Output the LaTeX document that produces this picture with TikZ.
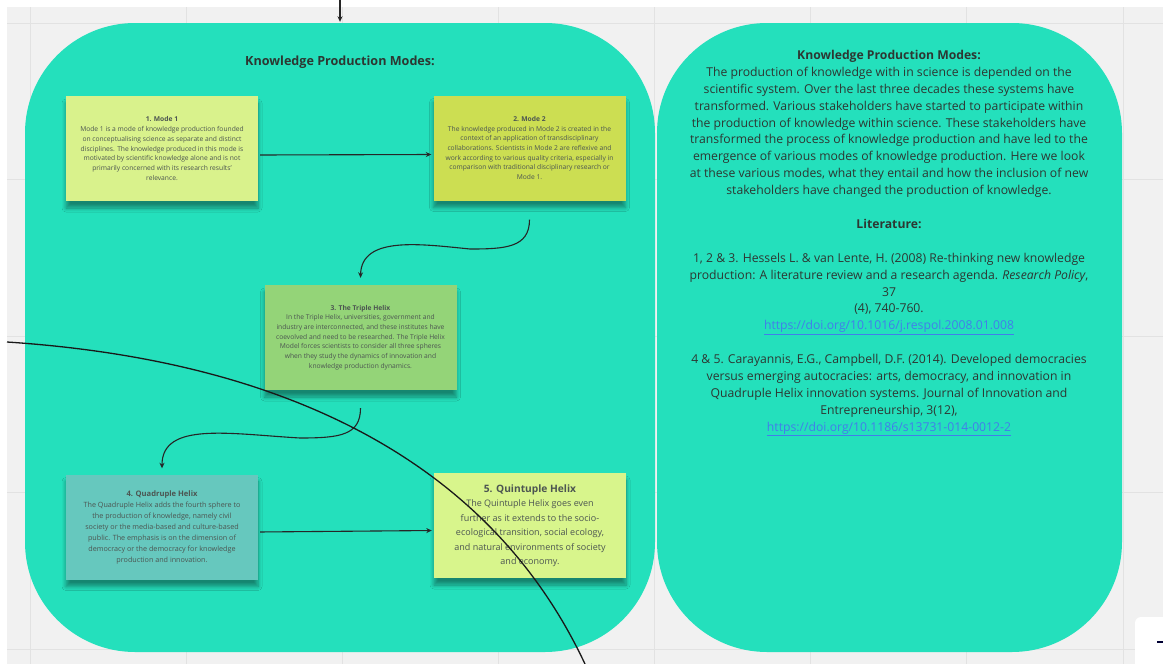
\documentclass[tikz,border=0pt]{standalone}
\usepackage{fontspec}
\setmainfont{Open Sans}
\usetikzlibrary{arrows.meta,shadows.blur}
\definecolor{board}{RGB}{241,241,241}
\definecolor{gridln}{RGB}{226,226,226}
\definecolor{panel}{RGB}{36,224,188}
\definecolor{modeA}{RGB}{217,242,140}
\definecolor{modeB}{RGB}{204,222,82}
\definecolor{triple}{RGB}{148,212,120}
\definecolor{quad}{RGB}{102,200,190}
\definecolor{quint}{RGB}{216,245,140}
\definecolor{ink}{RGB}{45,55,50}
\definecolor{doi}{RGB}{66,125,235}

\begin{document}
\begin{tikzpicture}[x=1pt,y=-1pt,
  panel/.style={fill=panel, rounded corners=110pt, inner sep=0pt, minimum height=629pt},
  note/.style={inner sep=0pt, align=center, text=ink!85, minimum width=192pt, minimum height=105pt,
    blur shadow={shadow xshift=0pt, shadow yshift=-7pt, shadow blur radius=4pt, shadow blur steps=6, shadow opacity=40}},
  small/.style={font=\fontsize{6.7}{9.7}\selectfont},
  link/.style={-{Stealth[length=5.5pt,width=5pt]}, line width=1.1pt, black!85, shorten >=2pt, shorten <=2pt}]
  \useasboundingbox (0,0) rectangle (1163,664);
  % board
  \fill[white] (0,0) rectangle (1163,664);
  \fill[board] (7,7) rectangle (1163,664);
  \foreach \i in {0,...,7} { \draw[gridln] (30+156.1*\i,7) -- (30+156.1*\i,664); }
  \foreach \j in {0,...,4} { \draw[gridln] (7,23+156.5*\j) -- (1163,23+156.5*\j); }
  \fill[white, rounded corners=6pt] (1135,617) rectangle (1175,680);
  \draw[line width=1.5pt, black!80!blue] (1157,642) -- (1163,642);

  % panels
  \node[panel, minimum width=630pt] (lpanel) at (340,337.5) {};
  \node[panel, minimum width=465pt] (rpanel) at (889.5,337.5) {};
  \node[font=\bfseries\fontsize{12.6}{14}\selectfont, text=ink] (ltitle) at (340,62) {Knowledge Production Modes:};

  % modes
  \node[note, small, fill=modeA] (m1) at (162,148.5) {\textbf{1. Mode 1}\\
    Mode 1 is a mode of knowledge production founded\\
    on conceptualising science as separate and distinct\\
    disciplines. The knowledge produced in this mode is\\
    motivated by scientific knowledge alone and is not\\
    primarily concerned with its research results'\\
    relevance.};
  \node[note, small, fill=modeB] (m2) at (529.5,148) {\textbf{2. Mode 2}\\
    The knowledge produced in Mode 2 is created in the\\
    context of an application of transdisciplinary\\
    collaborations. Scientists in Mode 2 are reflexive and\\
    work according to various quality criteria, especially in\\
    comparison with traditional disciplinary research or\\
    Mode 1.};
  \node[note, small, fill=triple] (m3) at (360.5,337.5) {\textbf{3. The Triple Helix}\\
    In the Triple Helix, universities, government and\\
    industry are interconnected, and these institutes have\\
    coevolved and need to be researched. The Triple Helix\\
    Model forces scientists to consider all three spheres\\
    when they study the dynamics of innovation and\\
    knowledge production dynamics.};
  \node[note, fill=quad, font=\fontsize{7.2}{11}\selectfont] (m4) at (162,527) {\textbf{\fontsize{7.6}{11}\selectfont 4. Quadruple Helix}\\
    The Quadruple Helix adds the fourth sphere to\\
    the production of knowledge, namely civil\\
    society or the media-based and culture-based\\
    public. The emphasis is on the dimension of\\
    democracy or the democracy for knowledge\\
    production and innovation.};
  \node[note, fill=quint, font=\fontsize{9}{14.5}\selectfont] (m5) at (530,525.5) {\textbf{\fontsize{10.2}{14.5}\selectfont 5. Quintuple Helix}\\
    The Quintuple Helix goes even\\
    further as it extends to the socio-\\
    ecological transition, social ecology,\\
    and natural environments of society\\
    and economy.};

  % connectors
  \coordinate (entry) at (340,0);
  \coordinate (w1) at (470,249);
  \coordinate (w2) at (300,438);
  \draw[link, shorten <=0pt, shorten >=1pt] (entry) -- (lpanel.north);
  \draw[link] ([yshift=-6.5pt]m1.east) -- ([yshift=-6.5pt]m2.west);
  \draw[link, shorten <=0pt, shorten >=0pt] ([yshift=-19pt]m2.south) .. controls +(0,28) and +(35,0) .. (w1)
    .. controls +(-50,-5) and +(1,-42) .. ([yshift=7pt]m3.north);
  \draw[link, shorten <=0pt, shorten >=0pt] ([yshift=-18pt]m3.south) .. controls +(0,27) and +(40,0) .. (w2)
    .. controls +(-70,-4) and +(0,-47) .. ([yshift=6pt]m4.north);
  \draw[link] ([yshift=-5pt]m4.east) -- ([yshift=-5pt]m5.west);

  % sweep across the board
  \coordinate (sweepA) at (7,342);
  \coordinate (sweepB) at (585,664);
  \draw[line width=1.3pt, black!90] (sweepA) .. controls (250,358) and (480,440) .. (sweepB);

  % about text
  \node[anchor=north, align=center, text=ink, inner sep=0pt, font=\fontsize{12.2}{16.9}\selectfont] (rtext) at (889,50) {%
    \textbf{Knowledge Production Modes:}\\
    The production of knowledge with in science is depended on the\\
    scientific system. Over the last three decades these systems have\\
    transformed. Various stakeholders have started to participate within\\
    the production of knowledge within science. These stakeholders have\\
    transformed the process of knowledge production and have led to the\\
    emergence of various modes of knowledge production. Here we look\\
    at these various modes, what they entail and how the inclusion of new\\
    stakeholders have changed the production of knowledge.\\[16.9pt]
    \textbf{Literature:}\\[16.9pt]
    1, 2 \& 3. Hessels L. \& van Lente, H. (2008) Re-thinking new knowledge\\
    production: A literature review and a research agenda. \textit{Research Policy},\\
    37\\
    (4), 740-760.\\
    \textcolor{doi}{\underline{https://doi.org/10.1016/j.respol.2008.01.008}}\\[16.9pt]
    4 \& 5. Carayannis, E.G., Campbell, D.F. (2014). Developed democracies\\
    versus emerging autocracies: arts, democracy, and innovation in\\
    Quadruple Helix innovation systems. Journal of Innovation and\\
    Entrepreneurship, 3(12),\\
    \textcolor{doi}{\underline{https://doi.org/10.1186/s13731-014-0012-2}}};
\end{tikzpicture}
\end{document}
